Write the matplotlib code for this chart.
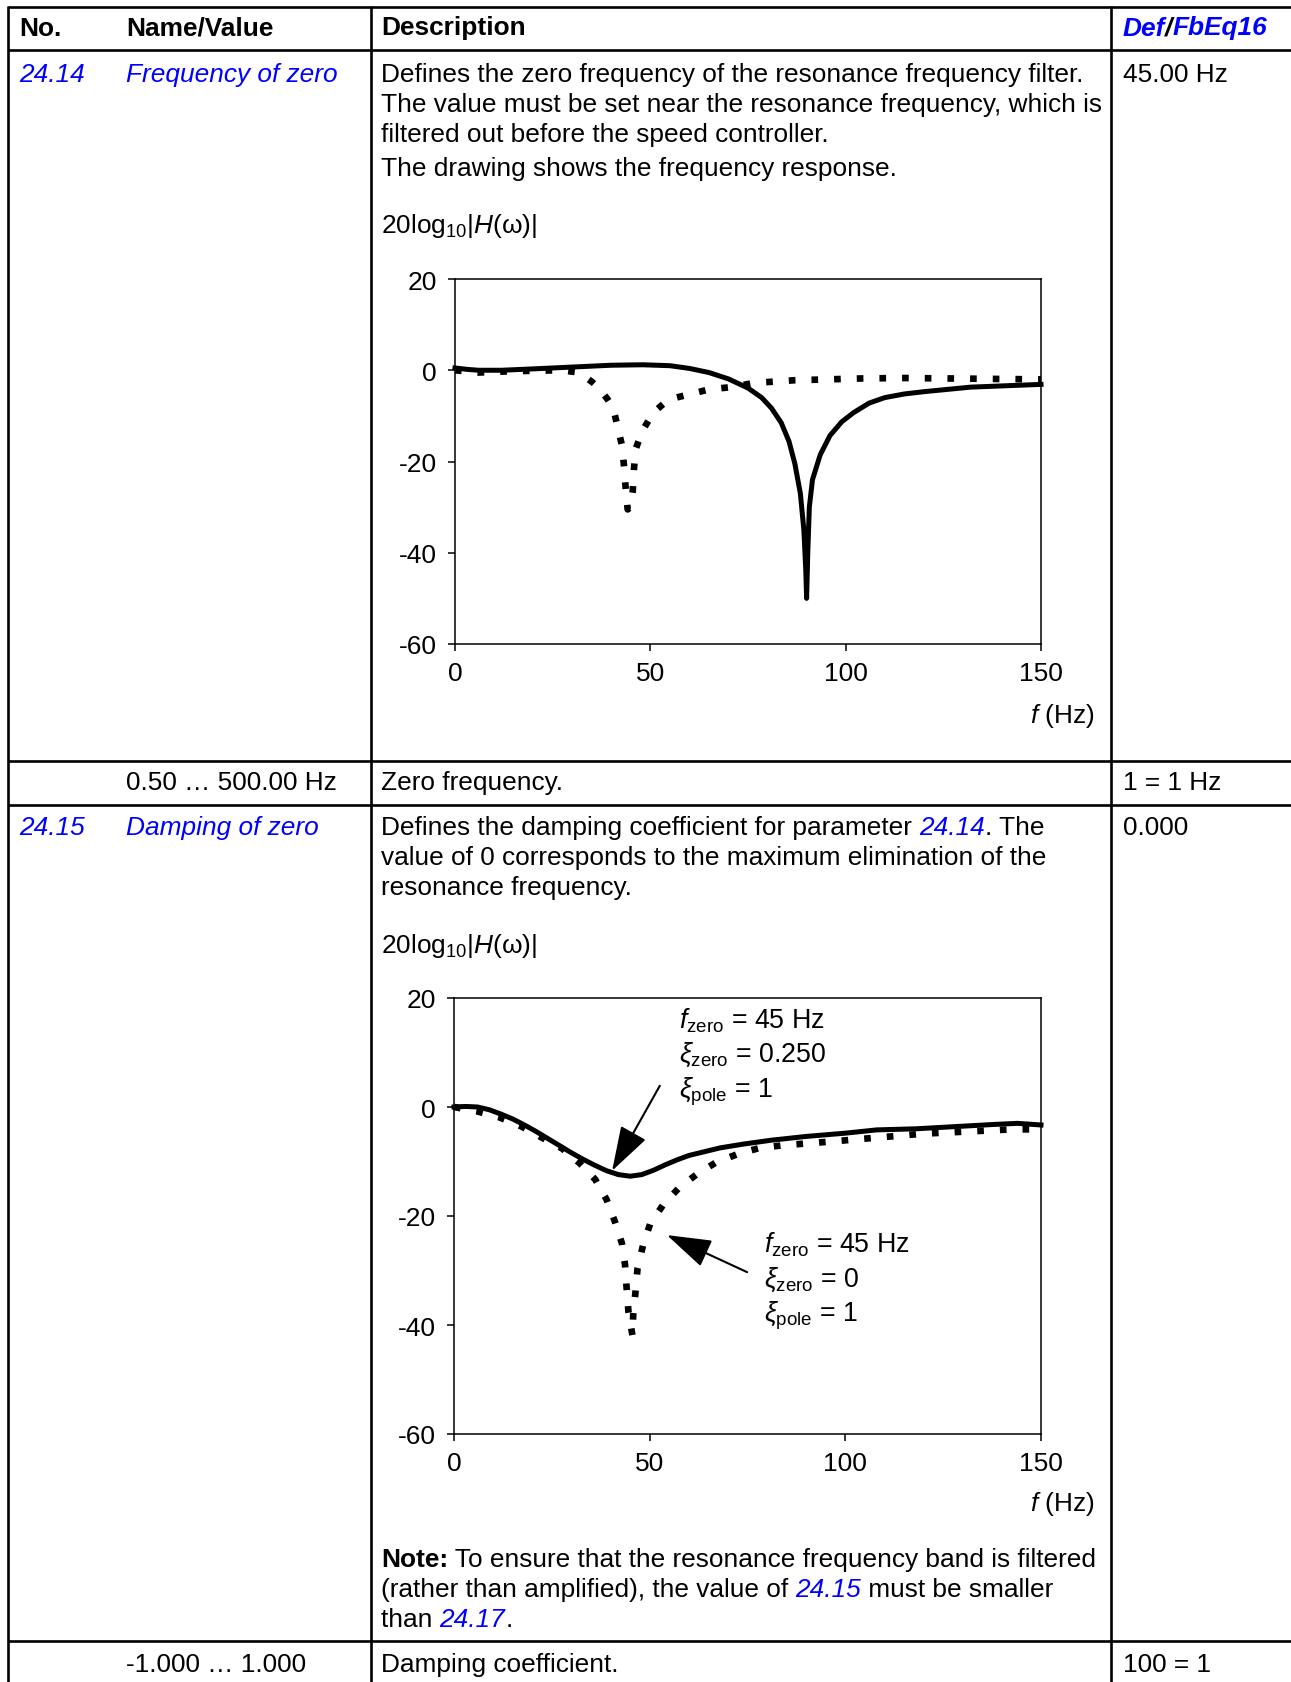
import matplotlib.pyplot as plt

plt.rcParams['font.family'] = ['Liberation Sans', 'DejaVu Sans']
plt.rcParams['mathtext.fontset'] = 'custom'
plt.rcParams['mathtext.rm'] = 'Liberation Sans'
plt.rcParams['mathtext.it'] = 'Liberation Sans:italic'
plt.rcParams['mathtext.bf'] = 'Liberation Sans:bold'
plt.rcParams['axes.unicode_minus'] = False

# --- data (f in Hz, gain in dB) ---
xticks = [0, 50, 100, 150]
yticks = [20, 0, -20, -40, -60]

# 24.14 drawing: solid = zero at 90 Hz, dotted = zero at 45 Hz
f1_solid = [0, 3, 6, 12, 20, 30, 40, 48, 55, 60, 65, 70, 75, 78.5, 81, 83.5, 85.5, 87,
            88.4, 89.3, 89.8, 90.0, 90.3, 90.7, 91.5, 93.5, 96, 99, 102, 106, 110, 115,
            120, 132, 150]
db1_solid = [0.5, 0.2, 0, 0, 0.3, 0.7, 1.1, 1.2, 1.0, 0.4, -0.5, -1.9, -3.9, -6, -8.3,
             -11.5, -15.6, -20.5, -27, -35, -44, -50, -40, -30, -24, -18.5, -14.3, -11.3,
             -9.3, -7.2, -6, -5.2, -4.7, -3.7, -3.1]
f1_dot = [0, 6, 15, 27, 31, 33, 35, 37, 39, 40.5, 41.6, 42.8, 43.3, 43.7, 44.2, 44.9,
          45.5, 45.8, 46.2, 47.9, 50.7, 54.7, 59.9, 65, 70.7, 76.4, 86.7, 104, 115, 138, 150]
db1_dot = [0, -0.5, -0.2, 0, -0.4, -1.3, -2.5, -4.1, -6.3, -8.3, -12.3, -16.7, -21.4,
           -26, -30.5, -30, -26.5, -21.8, -17.4, -13.4, -9.3, -6.4, -5.3, -4.2, -3.7,
           -2.8, -2.2, -1.8, -1.7, -1.9, -2]

# 24.15 drawing: solid = damping 0.250, dotted = damping 0
f2_solid = [0, 3, 6, 9, 12, 15, 18, 21, 24, 27, 30, 33, 36, 39, 42, 45, 48, 51, 54, 57,
            60, 64, 68, 74, 81, 90, 100, 108, 118, 128, 138, 144, 150]
db2_solid = [0, 0.1, 0, -0.5, -1.3, -2.2, -3.3, -4.5, -5.8, -7.1, -8.4, -9.6, -10.7,
             -11.7, -12.4, -12.7, -12.4, -11.6, -10.6, -9.7, -8.9, -8.2, -7.5, -6.8,
             -6.1, -5.4, -4.8, -4.2, -4.0, -3.6, -3.2, -3.0, -3.3]
f2_dot = [0, 5.9, 11.6, 17.3, 22.4, 27.6, 32.1, 36.1, 39, 41.2, 42.9, 43.7, 44.1, 44.6,
          45.6, 45.8, 46.4, 46.9, 48.3, 50.1, 53.4, 57.4, 62.3, 66.9, 72.6, 78.2, 84.5,
          97, 108.4, 119.8, 131.2, 142.6, 149.5]
db2_dot = [0, -0.8, -1.9, -3.6, -5.6, -7.6, -10.3, -13.3, -17, -21.2, -25, -28.9, -33.1,
           -37.7, -41.9, -38, -33.8, -29.6, -25.4, -21.5, -18, -14.9, -12.2, -10.2, -8.6,
           -7.5, -7, -6.3, -5.6, -4.9, -4.5, -4.1, -4.1]

label_a = [r'$f_{\rm zero}$ = 45 Hz', r'$\xi_{\rm zero}$ = 0.250', r'$\xi_{\rm pole}$ = 1']
label_b = [r'$f_{\rm zero}$ = 45 Hz', r'$\xi_{\rm zero}$ = 0', r'$\xi_{\rm pole}$ = 1']

BLUE = '#0000ff'
FS = 18.9
W, H = 1291, 1683

fig = plt.figure(figsize=(W / 100, H / 100), dpi=100)
bg = fig.add_axes([0, 0, 1, 1])
bg.set_xlim(0, W)
bg.set_ylim(H, 0)
bg.axis('off')
renderer = fig.canvas.get_renderer()


def text_width(s, **kw):
    t = bg.text(0, 0, s + '|', fontsize=FS, **kw)
    w1 = t.get_window_extent(renderer).width
    t.remove()
    t = bg.text(0, 0, '|', fontsize=FS, **kw)
    w2 = t.get_window_extent(renderer).width
    t.remove()
    return w1 - w2


def rich(x, y, parts):
    for s, kw in parts:
        bg.text(x, y, s, fontsize=FS, va='baseline', **kw)
        x += text_width(s, **kw)


def put(x, y, s, **kw):
    bg.text(x, y, s, fontsize=FS, va='baseline', **kw)


link = dict(color=BLUE, style='italic')

# table rules
for y in [8, 51, 762, 806, 1642]:
    bg.plot([8, W], [y, y], color='black', lw=1.9, solid_capstyle='butt')
for x in [8, 371, 1111]:
    bg.plot([x, x], [7, H], color='black', lw=1.9, solid_capstyle='butt')

# header
put(19, 35.5, 'No.', weight='bold')
put(126, 35.5, 'Name/Value', weight='bold')
put(381, 35.5, 'Description', weight='bold')
hdr = dict(weight='bold', style='italic')
rich(1123, 35.5, [('Def', dict(color=BLUE, **hdr)), ('/', dict(color='black', **hdr)),
                  ('FbEq16', dict(color=BLUE, **hdr))])

# 24.14
put(19, 82, '24.14', **link)
put(126, 82, 'Frequency of zero', **link)
put(381, 82, 'Defines the zero frequency of the resonance frequency filter.')
put(381, 112, 'The value must be set near the resonance frequency, which is')
put(381, 142, 'filtered out before the speed controller.')
put(381, 176, 'The drawing shows the frequency response.')
put(1123, 82, '45.00 Hz')
put(381, 233.5, r'20log$_{\rm 10}$|$H$(ω)|')
put(1095, 723, r'$f$ (Hz)', ha='right')

put(126, 790, '0.50 … 500.00 Hz')
put(381, 790, 'Zero frequency.')
put(1123, 790, '1 = 1 Hz')

# 24.15
put(19, 835, '24.15', **link)
put(126, 835, 'Damping of zero', **link)
rich(381, 835, [('Defines the damping coefficient for parameter ', {}), ('24.14', link),
                ('. The', {})])
put(381, 865, 'value of 0 corresponds to the maximum elimination of the')
put(381, 895.5, 'resonance frequency.')
put(1123, 835, '0.000')
put(381, 953, r'20log$_{\rm 10}$|$H$(ω)|')
put(1095, 1511, r'$f$ (Hz)', ha='right')
rich(381, 1567, [('Note:', dict(weight='bold')),
                 (' To ensure that the resonance frequency band is filtered', {})])
rich(381, 1597, [('(rather than amplified), the value of ', {}), ('24.15', link),
                 (' must be smaller', {})])
rich(381, 1627, [('than ', {}), ('24.17', link), ('.', {})])

put(126, 1672, '-1.000 … 1.000')
put(381, 1672, 'Damping coefficient.')
put(1123, 1672, '100 = 1')


def chart(left, top, right, bottom, fa, da, fb, dbb):
    ax = fig.add_axes([left / W, 1 - bottom / H, (right - left) / W, (bottom - top) / H])
    ax.plot(fa, da, color='black', lw=3.6, solid_joinstyle='round', clip_on=False)
    ax.plot(fb, dbb, color='black', lw=4.8, linestyle=(0, (1.0, 2.4)),
            dash_capstyle='butt', clip_on=False)
    ax.set_xlim(0, 150)
    ax.set_ylim(-60, 20)
    ax.set_xticks(xticks)
    ax.set_yticks(yticks)
    ax.tick_params(direction='out', length=5, width=1.1, labelsize=19)
    ax.tick_params(axis='y', pad=8)
    ax.tick_params(axis='x', pad=7)
    for sp in ax.spines.values():
        sp.set_linewidth(1.1)
    return ax


ax1 = chart(455, 280, 1041, 645, f1_solid, db1_solid, f1_dot, db1_dot)
ax2 = chart(454, 999, 1041, 1435, f2_solid, db2_solid, f2_dot, db2_dot)

for txt, y in zip(label_a, [14.6, 8.4, 2.0]):
    ax2.text(57.6, y, txt, fontsize=19.3, va='baseline')
for txt, y in zip(label_b, [-26.5, -32.8, -39.1]):
    ax2.text(79.3, y, txt, fontsize=19.3, va='baseline')

arrow = dict(arrowstyle='-|>,head_length=2.8,head_width=0.9', mutation_scale=10,
             lw=1.5, color='black', shrinkA=0, shrinkB=0)
ax2.annotate('', xy=(40.4, -11.7), xytext=(52.6, 3.9), arrowprops=arrow)
ax2.annotate('', xy=(54.4, -23.5), xytext=(74.9, -30.3), arrowprops=arrow)

fig.savefig('out.png', dpi=100)
